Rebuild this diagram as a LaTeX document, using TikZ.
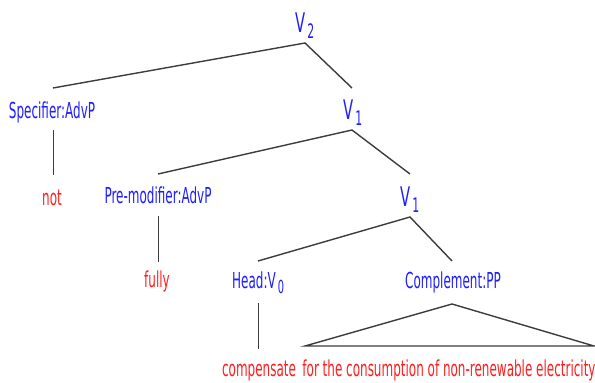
\documentclass[tikz,border=0pt]{standalone}
\usepackage{fontspec}
\setmainfont{DejaVu Sans}[FakeStretch=0.545]
\definecolor{catblue}{RGB}{30,30,255}
\definecolor{wordred}{RGB}{255,30,30}
\definecolor{edgegray}{RGB}{60,60,60}
\begin{document}
\begin{tikzpicture}[x=1pt,y=-1pt,
  cat/.style={text=catblue, inner sep=0pt, anchor=base, font=\fontsize{22}{26}\selectfont},
  word/.style={text=wordred, inner sep=0pt, anchor=base, font=\fontsize{22}{26}\selectfont},
  vlab/.style={text=catblue, inner sep=0pt, anchor=base west, font=\fontsize{27}{30}\selectfont},
  branch/.style={draw=edgegray, line width=1.4pt},
  stem/.style={draw=edgegray, line width=0.9pt}]
\useasboundingbox (0,0) rectangle (595,383);
% labels
\node[vlab] (v2) at (295,32) {V\hspace{2pt}\raisebox{-6pt}{\fontsize{20}{22}\selectfont 2}};
\node[cat] (spec) at (52,118) {Specifier:AdvP};
\node[word] (not) at (52,205) {not};
\node[vlab] (v1a) at (343,119) {V\hspace{2pt}\raisebox{-6pt}{\fontsize{20}{22}\selectfont 1}};
\node[cat] (premod) at (158,203) {Pre-modifier:AdvP};
\node[word] (fully) at (157,287) {fully};
\node[vlab] (v1b) at (400,206) {V\hspace{2pt}\raisebox{-6pt}{\fontsize{20}{22}\selectfont 1}};
\node[cat, anchor=base west] (head) at (232,288) {Head:V\hspace{2pt}\raisebox{-5pt}{\fontsize{18}{20}\selectfont 0}};
\node[cat] (comp) at (453,288) {Complement:PP};
\node[word] (compensate) at (259,376) {compensate};
\node[word] (pp) at (449,376) {for the consumption of non-renewable electricity};
% joints
\coordinate (j2) at (305,43);
\coordinate (j1a) at (352,130);
\coordinate (j1b) at (410,217);
\coordinate (specT) at (53,88);
\coordinate (specB) at (53,130);
\coordinate (notT) at (53,175);
\coordinate (v1aT) at (352,88);
\coordinate (premodT) at (158,174);
\coordinate (premodB) at (158,216);
\coordinate (fullyT) at (158,262);
\coordinate (v1bT) at (410,174);
\coordinate (headT) at (258,261);
\coordinate (headB) at (258,303);
\coordinate (compensateT) at (258,349);
\coordinate (compT) at (452,261);
\coordinate (apex) at (452,304);
\coordinate (baseL) at (305,346);
\coordinate (baseR) at (594,346);
% branches
\draw[branch] (specT) -- (j2) -- (v1aT);
\draw[branch] (premodT) -- (j1a) -- (v1bT);
\draw[branch] (headT) -- (j1b) -- (compT);
\draw[stem] (specB) -- (notT);
\draw[stem] (premodB) -- (fullyT);
\draw[stem] (headB) -- (compensateT);
\draw[branch, line join=miter] (apex) -- (baseR) -- (baseL) -- cycle;
\end{tikzpicture}
\end{document}
